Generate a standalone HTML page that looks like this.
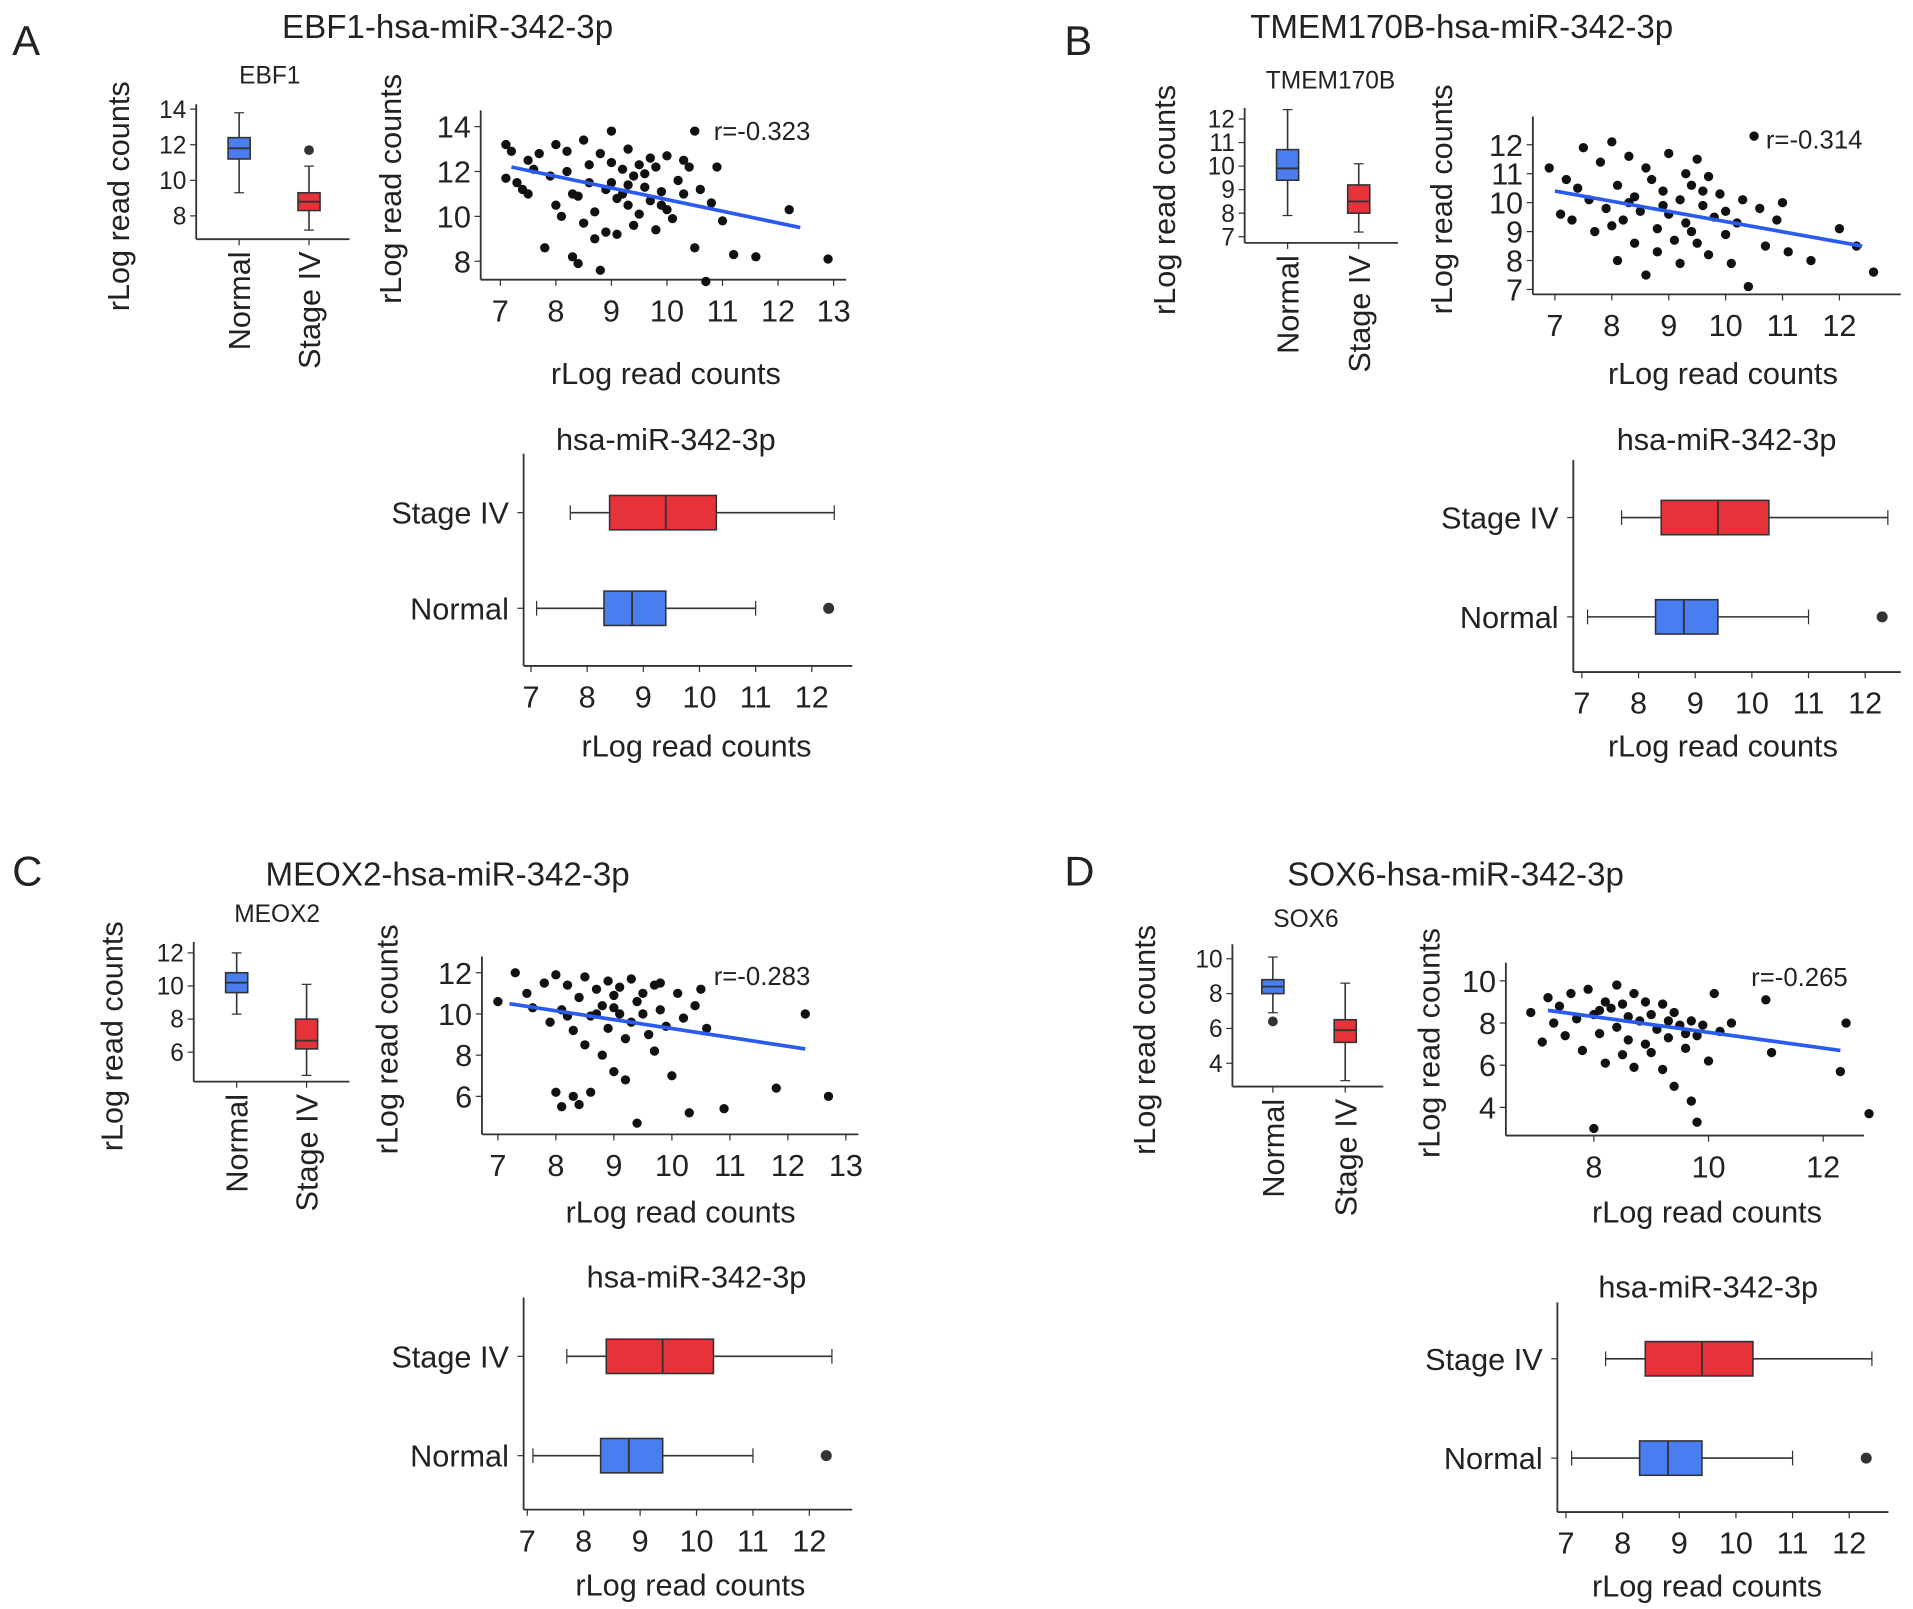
<!DOCTYPE html>
<html><head><meta charset="utf-8"><style>
html,body{margin:0;padding:0;background:#fff}
svg{display:block}
text{font-family:"Liberation Sans",sans-serif;fill:#222}
</style></head><body>
<svg id="fig" width="1913" height="1609" viewBox="0 0 1560 1312" xmlns="http://www.w3.org/2000/svg"></svg>
<script>
// ---------- data ----------
const groups = ["Normal","Stage IV"];
const geneNames = ["EBF1","TMEM170B","MEOX2","SOX6"];
const rValues = ["r=-0.323","r=-0.314","r=-0.283","r=-0.265"];
// gene box stats [lowWhisker, q1, median, q3, highWhisker, outliers...]
const geneBoxNormal = [[9.3,11.2,11.8,12.4,13.8],[7.9,9.4,9.9,10.7,12.4],[8.3,9.6,10.2,10.8,12],[6.9,8.0,8.4,8.8,10.1,6.4]];
const geneBoxStage = [[7.2,8.3,8.8,9.3,10.8,11.7],[7.2,8,8.5,9.2,10.1],[4.6,6.2,6.7,8.0,10.1],[3.0,5.2,5.9,6.5,8.6]];
// miRNA box stats
const mirStage = [7.7,8.4,9.4,10.3,12.4];
const mirNormal = [7.1,8.3,8.8,9.4,11.0,12.3];
// regression lines [x0,y0,x1,y1]
const regLines = [[7.2,12.2,12.4,9.5],[7.0,10.4,12.4,8.5],[7.2,10.5,12.3,8.3],[7.2,8.6,12.3,6.7]];
const scatterA = [[7.1,13.2],[7.2,12.9],[7.3,11.5],[7.1,11.7],[7.4,11.2],[7.5,12.5],[7.6,12.1],[7.8,8.6],[7.9,11.8],[8,10.5],[8,13.2],[8.2,12.9],[8.3,11],[8.3,8.2],[8.4,7.9],[8.5,13.4],[8.6,11.5],[8.7,10.2],[8.7,9],[8.8,12.8],[8.9,11.2],[8.9,9.3],[9,13.8],[9,12.4],[9,11.5],[9.1,10.8],[9.1,9.2],[9.2,12.1],[9.2,11],[9.3,10.5],[9.3,13],[9.4,11.8],[9.4,9.6],[9.5,12.3],[9.5,10.1],[9.6,11.3],[9.7,12.6],[9.7,10.7],[9.8,9.4],[9.9,11.1],[10,12.7],[10,10.3],[10.1,9.9],[10.2,11.6],[10.3,11],[10.4,12.2],[10.5,13.8],[10.5,8.6],[10.6,11.2],[10.7,7.1],[10.9,12.2],[11.2,8.3],[11.6,8.2],[12.2,10.3],[12.9,8.1],[7.5,11],[8.1,10],[8.5,9.7],[8.8,7.6],[9.6,11.9],[8.2,12],[9.8,12.2],[10.8,10.6],[11,9.8],[8.6,12.3],[9.3,11.4],[8.4,10.9],[7.7,12.8],[9.9,10.5],[10.3,12.5]];
const scatterB = [[6.9,11.2],[7.1,9.6],[7.2,10.8],[7.3,9.4],[7.5,11.9],[7.6,10.1],[7.7,9.0],[7.8,11.4],[7.9,9.8],[8.0,12.1],[8.1,10.6],[8.1,8.0],[8.2,9.4],[8.3,11.6],[8.4,10.2],[8.4,8.6],[8.5,9.7],[8.6,11.2],[8.6,7.5],[8.7,10.8],[8.8,9.1],[8.8,8.3],[8.9,10.4],[9.0,11.7],[9.0,9.6],[9.1,8.7],[9.2,10.1],[9.2,7.9],[9.3,11.0],[9.3,9.3],[9.4,10.6],[9.5,8.6],[9.5,11.5],[9.6,9.9],[9.7,10.9],[9.7,8.2],[9.8,9.5],[9.9,10.3],[10.0,8.9],[10.0,9.7],[10.1,7.9],[10.2,9.3],[10.3,10.1],[10.4,7.1],[10.5,12.3],[10.6,9.8],[10.7,8.5],[10.9,9.4],[11.0,10.0],[11.1,8.3],[11.5,8.0],[12.0,9.1],[12.3,8.5],[12.6,7.6],[8.0,9.2],[8.9,9.9],[9.4,9.0],[7.4,10.5],[8.3,10.0],[9.6,10.4]];
const scatterC = [[7.0,10.6],[7.3,12.0],[7.5,11.0],[7.6,10.3],[7.8,11.5],[7.9,9.6],[8.0,11.9],[8.0,6.2],[8.1,10.2],[8.1,5.5],[8.2,11.4],[8.3,9.2],[8.3,6.0],[8.4,10.8],[8.4,5.6],[8.5,11.8],[8.5,8.5],[8.6,9.9],[8.6,6.2],[8.7,11.2],[8.8,10.4],[8.8,8.0],[8.9,11.6],[8.9,9.3],[9.0,10.9],[9.0,7.2],[9.1,11.3],[9.1,10.0],[9.2,8.8],[9.2,6.8],[9.3,11.7],[9.3,9.6],[9.4,10.6],[9.4,4.7],[9.5,11.0],[9.6,9.0],[9.7,11.4],[9.7,8.2],[9.8,10.2],[9.9,9.4],[10.0,7.0],[10.1,11.0],[10.2,9.8],[10.3,5.2],[10.4,10.4],[10.5,11.2],[10.6,9.3],[10.9,5.4],[11.8,6.4],[12.3,10.0],[12.7,6.0],[8.7,10.0],[9.5,10.0],[8.2,9.9],[9.0,10.3],[9.8,11.5]];
const scatterD = [[6.9,8.5],[7.1,7.1],[7.2,9.2],[7.3,8.0],[7.4,8.8],[7.5,7.4],[7.6,9.4],[7.7,8.2],[7.8,6.7],[7.9,9.6],[8.0,8.4],[8.0,3.0],[8.1,7.5],[8.2,9.0],[8.2,6.1],[8.3,8.7],[8.4,7.8],[8.4,9.8],[8.5,6.5],[8.5,8.9],[8.6,7.2],[8.7,9.4],[8.7,5.9],[8.8,8.1],[8.9,7.0],[8.9,9.0],[9.0,8.4],[9.0,6.6],[9.1,7.7],[9.2,8.9],[9.2,5.8],[9.3,7.3],[9.4,8.5],[9.4,5.0],[9.5,7.9],[9.6,6.8],[9.7,8.1],[9.7,4.3],[9.8,7.4],[9.8,3.3],[9.9,7.9],[10.0,6.2],[10.1,9.4],[10.2,7.6],[10.4,8.0],[11.0,9.1],[11.1,6.6],[12.3,5.7],[12.4,8.0],[12.8,3.7],[8.6,8.3],[9.3,8.1],[8.1,8.6],[9.6,7.5]];
const scatterData = [scatterA,scatterB,scatterC,scatterD];
const titles = ["EBF1-hsa-miR-342-3p","TMEM170B-hsa-miR-342-3p","MEOX2-hsa-miR-342-3p","SOX6-hsa-miR-342-3p"];
const letters = ["A","B","C","D"];
const geneTicks = [[8,10,12,14],[7,8,9,10,11,12],[6,8,10,12],[4,6,8,10]];
const scatterXTicks = [[7,8,9,10,11,12,13],[7,8,9,10,11,12],[7,8,9,10,11,12,13],[8,10,12]];
const scatterYTicks = [[8,10,12,14],[7,8,9,10,11,12],[6,8,10,12],[4,6,8,10]];
const mirTicks = [7,8,9,10,11,12];

// ---------- layout (positions only) ----------
const L = [
 {letter:[10,45],title:[365,22],gb:{ax:160,bot:195,right:285,top:85,v0:8,p0:176,ppu:14.5,xs:[195,252],sub:[220,68],yl:105},
  sc:{ax:392,bot:228,right:690,top:90,x0:7,px0:408,ppx:45.3,y0:8,py0:213,ppy:18.3,r:[582,107],xl:[543,304],yt:327},
  mb:{ax:427,top:370,bot:543,right:695,v0:7,p0:433,ppu:45.8,ys:[418,496],title:[543,358],xl:[568,608]}},
 {letter:[868,45],title:[1192,22],gb:{ax:1015,bot:198,right:1140,top:88,v0:7,p0:193,ppu:19.2,xs:[1050,1108],sub:[1085,72],yl:958},
  sc:{ax:1250,bot:240,right:1550,top:95,x0:7,px0:1268,ppx:46.4,y0:7,py0:236,ppy:23.6,r:[1440,114],xl:[1405,304],yt:1184},
  mb:{ax:1283,top:375,bot:548,right:1550,v0:7,p0:1290,ppu:46.2,ys:[422,503],title:[1408,358],xl:[1405,608]}},
 {letter:[10,722],title:[365,713],gb:{ax:158,bot:882,right:285,top:768,v0:6,p0:858,ppu:13.5,xs:[193,250],sub:[226,752],yl:100},
  sc:{ax:393,bot:925,right:700,top:780,x0:7,px0:406,ppx:47.3,y0:6,py0:894,ppy:16.8,r:[582,796],xl:[555,988],yt:324},
  mb:{ax:427,top:1058,bot:1231,right:695,v0:7,p0:430,ppu:46,ys:[1106,1187],title:[568,1041],xl:[563,1292]}},
 {letter:[868,722],title:[1187,713],gb:{ax:1005,bot:886,right:1128,top:770,v0:4,p0:867,ppu:14.2,xs:[1038,1097],sub:[1065,756],yl:942},
  sc:{ax:1228,bot:926,right:1520,top:785,x0:7,px0:1253,ppx:46.75,y0:4,py0:903,ppy:17.2,r:[1428,797],xl:[1392,988],yt:1174},
  mb:{ax:1270,top:1062,bot:1233,right:1540,v0:7,p0:1277,ppu:46.2,ys:[1108,1189],title:[1393,1049],xl:[1392,1293]}}
];
const BLUE="#4a7ef0", RED="#e8323a";
const svg=document.getElementById('fig');
const NS="http://www.w3.org/2000/svg";
function mk(tag,attrs,parent){const e=document.createElementNS(NS,tag);for(const k in attrs)e.setAttribute(k,attrs[k]);(parent||svg).appendChild(e);return e;}
function txt(s,x,y,size,anchor,parent,rot){const t=mk('text',{x:x,y:y,'font-size':size,'text-anchor':anchor||'middle'},parent);if(rot)t.setAttribute('transform','rotate(-90 '+x+' '+y+')');t.textContent=s;return t;}

for(let i=0;i<4;i++){
 const c=L[i];
 const g=mk('g',{});
 
 
 const lt=txt(letters[i],c.letter[0],c.letter[1],34,'start',g);
 
 
 const tt=txt(titles[i],c.title[0],c.title[1]+9,27,'middle',g);
 
 

 // gene vertical boxplot
 const gb=c.gb; const gy=v=>gb.p0-(v-gb.v0)*gb.ppu;
 const gg=mk('g',{},g);
 
 
 mk('line',{x1:gb.ax,y1:gb.top,x2:gb.ax,y2:gb.bot,stroke:'#333','stroke-width':1.5},gg);
 mk('line',{x1:gb.ax,y1:gb.bot,x2:gb.right,y2:gb.bot,stroke:'#333','stroke-width':1.5},gg);
 geneTicks[i].forEach(v=>{const y=gy(v);mk('line',{x1:gb.ax-5,y1:y,x2:gb.ax,y2:y,stroke:'#333'},gg);txt(String(v),gb.ax-8,y+7,20,'end',gg);});
 const st=txt(geneNames[i],gb.sub[0],gb.sub[1],20,'middle',gg);
 
 
 const yt=txt('rLog read counts',gb.yl,(gb.top+gb.bot)/2+20,25,'middle',gg,true);
 
 
 [geneBoxNormal[i],geneBoxStage[i]].forEach((s,k)=>{
  const x=gb.xs[k], w=9, col=k?RED:BLUE;
  const b=mk('g',{},gg);
  
  
  mk('line',{x1:x,y1:gy(s[0]),x2:x,y2:gy(s[4]),stroke:'#333','stroke-width':1.3},b);
  mk('line',{x1:x-4,y1:gy(s[0]),x2:x+4,y2:gy(s[0]),stroke:'#333'},b);
  mk('line',{x1:x-4,y1:gy(s[4]),x2:x+4,y2:gy(s[4]),stroke:'#333'},b);
  mk('rect',{x:x-w,y:gy(s[3]),width:2*w,height:gy(s[1])-gy(s[3]),fill:col,stroke:'#333','stroke-width':1.3},b);
  mk('line',{x1:x-w,y1:gy(s[2]),x2:x+w,y2:gy(s[2]),stroke:'#333','stroke-width':1.5},b);
  for(let j=5;j<s.length;j++)mk('circle',{cx:x,cy:gy(s[j]),r:4,fill:'#333'},b);
  mk('line',{x1:x,y1:gb.bot,x2:x,y2:gb.bot+5,stroke:'#333'},gg);
  txt(groups[k],x+9,gb.bot+10,25,'end',gg,true);
 });

 // scatter
 const sc=c.sc; const sx=v=>sc.px0+(v-sc.x0)*sc.ppx, sy=v=>sc.py0-(v-sc.y0)*sc.ppy;
 const sg=mk('g',{},g);
 
 
 mk('line',{x1:sc.ax,y1:sc.top,x2:sc.ax,y2:sc.bot,stroke:'#333','stroke-width':1.5},sg);
 mk('line',{x1:sc.ax,y1:sc.bot,x2:sc.right,y2:sc.bot,stroke:'#333','stroke-width':1.5},sg);
 scatterXTicks[i].forEach(v=>{const x=sx(v);mk('line',{x1:x,y1:sc.bot,x2:x,y2:sc.bot+5,stroke:'#333'},sg);txt(String(v),x,sc.bot+34,25,'middle',sg);});
 scatterYTicks[i].forEach(v=>{const y=sy(v);mk('line',{x1:sc.ax-5,y1:y,x2:sc.ax,y2:y,stroke:'#333'},sg);txt(String(v),sc.ax-8,y+9,25,'end',sg);});
 const syt=txt('rLog read counts',sc.yt,(sc.top+sc.bot)/2-5,25,'middle',sg,true);
 
 
 const sxt=txt('rLog read counts',sc.xl[0],sc.xl[1]+9,25,'middle',sg);
 
 
 scatterData[i].forEach(p=>{
  const d=mk('circle',{cx:sx(p[0]),cy:sy(p[1]),r:3.8,fill:'#111'},sg);
  
  
 });
 const rl=regLines[i];
 const ln=mk('line',{x1:sx(rl[0]),y1:sy(rl[1]),x2:sx(rl[2]),y2:sy(rl[3]),stroke:'#2a5bf0','stroke-width':3},sg);
 
 
 const rt=txt(rValues[i],sc.r[0],sc.r[1]+7,21,'start',sg);
 
 

 // miRNA horizontal box
 const mb=c.mb; const mx=v=>mb.p0+(v-mb.v0)*mb.ppu;
 const mg=mk('g',{},g);
 
 
 mk('line',{x1:mb.ax,y1:mb.top,x2:mb.ax,y2:mb.bot,stroke:'#333','stroke-width':1.5},mg);
 mk('line',{x1:mb.ax,y1:mb.bot,x2:mb.right,y2:mb.bot,stroke:'#333','stroke-width':1.5},mg);
 mirTicks.forEach(v=>{const x=mx(v);mk('line',{x1:x,y1:mb.bot,x2:x,y2:mb.bot+5,stroke:'#333'},mg);txt(String(v),x,mb.bot+34,25,'middle',mg);});
 const mt=txt('hsa-miR-342-3p',mb.title[0],mb.title[1]+9,25,'middle',mg);
 
 
 const mxt=txt('rLog read counts',mb.xl[0],mb.xl[1]+9,25,'middle',mg);
 
 
 [mirStage,mirNormal].forEach((s,k)=>{
  const y=mb.ys[k], h=14, col=k?BLUE:RED;
  const b=mk('g',{},mg);
  
  
  mk('line',{x1:mb.ax-5,y1:y,x2:mb.ax,y2:y,stroke:'#333'},mg);
  txt(k?'Normal':'Stage IV',mb.ax-12,y+9,25,'end',mg);
  mk('line',{x1:mx(s[0]),y1:y,x2:mx(s[4]),y2:y,stroke:'#333','stroke-width':1.3},b);
  mk('line',{x1:mx(s[0]),y1:y-6,x2:mx(s[0]),y2:y+6,stroke:'#333'},b);
  mk('line',{x1:mx(s[4]),y1:y-6,x2:mx(s[4]),y2:y+6,stroke:'#333'},b);
  mk('rect',{x:mx(s[1]),y:y-h,width:mx(s[3])-mx(s[1]),height:2*h,fill:col,stroke:'#333','stroke-width':1.3},b);
  mk('line',{x1:mx(s[2]),y1:y-h,x2:mx(s[2]),y2:y+h,stroke:'#333','stroke-width':1.5},b);
  for(let j=5;j<s.length;j++)mk('circle',{cx:mx(s[j]),cy:y,r:4.5,fill:'#333'},b);
 });
}
</script>
</body></html>
